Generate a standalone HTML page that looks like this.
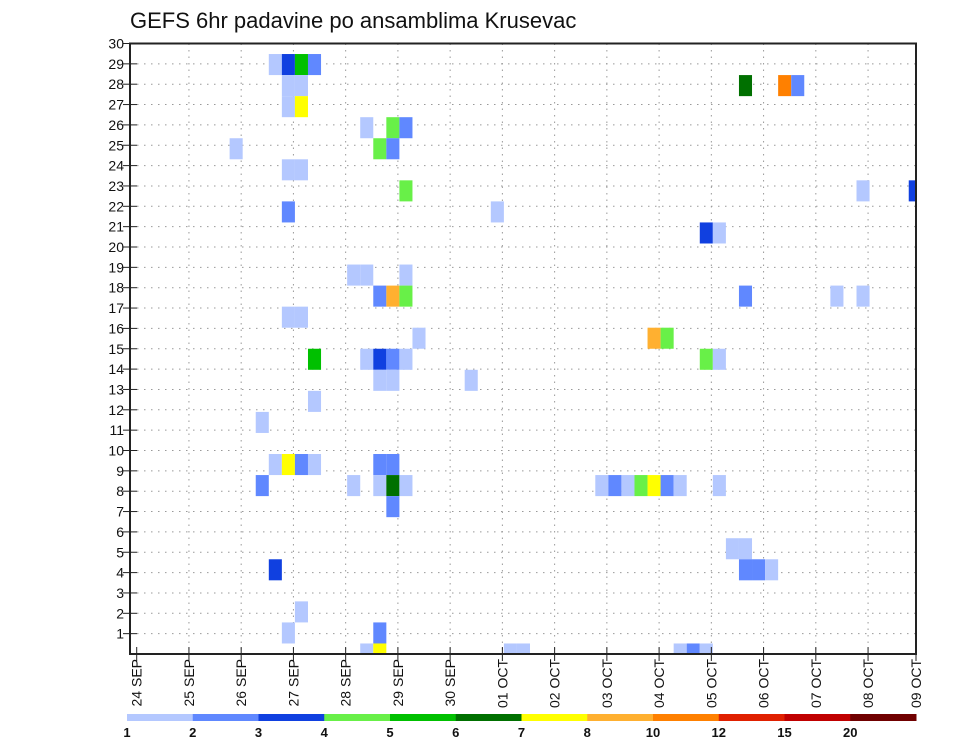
<!DOCTYPE html>
<html><head><meta charset="utf-8"><style>
html,body{margin:0;padding:0;background:#fff;}
svg{display:block;font-family:"Liberation Sans","DejaVu Sans",sans-serif;}
</style></head><body>
<svg id="chart" width="960" height="742" viewBox="0 0 960 742" xmlns="http://www.w3.org/2000/svg">
<rect x="0" y="0" width="960" height="742" fill="#fff"/>
<text x="130" y="28" font-size="22" fill="#111">GEFS 6hr padavine po ansamblima Krusevac</text>
<defs><clipPath id="plotclip"><rect x="130" y="43.5" width="786" height="610.5"/></clipPath></defs>
<g id="grid"></g>
<g id="cells" clip-path="url(#plotclip)"></g>
<rect x="130" y="43.5" width="786" height="610.5" fill="none" stroke="#222" stroke-width="2"/>
<g id="yaxis"></g>
<g id="xaxis"></g>
<g id="colorbar"></g>
</svg>
<script>
// member index, 6-hour step index (from 24 SEP 00z), precipitation value (mm)
const members = [28,28,28,28, 27,27,27,27,27, 26,26, 25,25,25, 24,24,24, 23,23, 22,22,22, 21,21, 20,20, 18,18,18, 17,17,17,17,17,17, 16,16, 15,15,15, 14,14,14,14,14,14,14, 13,13,13, 12, 11, 9,9,9,9,9,9, 8,8,8,8,8,8,8,8,8,8,8,8,8, 7, 5,5, 4,4,4,4, 2, 1,1, 0,0,0,0,0,0,0];
const steps   = [10,11,12,13, 11,12,46,49,50, 11,12, 17,19,20, 7,18,19, 11,12, 20,55,59, 11,27, 43,44, 16,17,20, 18,19,20,46,53,55, 11,12, 21,39,40, 13,17,18,19,20,43,44, 18,19,25, 13, 9, 10,11,12,13,18,19, 9,16,18,19,20,35,36,37,38,39,40,41,44, 19, 45,46, 10,46,47,48, 12, 11,18, 17,18,28,29,41,42,43];
const values  = [1.5,3.5,5.5,2.5, 1.5,1.5,6.5,11,2.5, 1.5,7.5, 1.5,4.5,2.5, 1.5,4.5,2.5, 1.5,1.5, 4.5,1.5,3.5, 2.5,1.5, 3.5,1.5, 1.5,1.5,1.5, 2.5,9,4.5,2.5,1.5,1.5, 1.5,1.5, 1.5,9,4.5, 5.5,1.5,3.5,2.5,1.5,4.5,1.5, 1.5,1.5,1.5, 1.5, 1.5, 1.5,7.5,2.5,1.5,2.5,2.5, 2.5,1.5,1.5,6.5,1.5,1.5,2.5,1.5,4.5,7.5,2.5,1.5,1.5, 2.5, 1.5,1.5, 3.5,2.5,2.5,1.5, 1.5, 1.5,2.5, 1.5,7.5,1.5,1.5,1.5,2.5,1.5];
const levels = [1,2,3,4,5,6,7,8,10,12,15,20];
const levelColors = ["#b4c8ff","#6088ff","#1040e0","#68f048","#00c000","#007000","#ffff00","#ffb030","#ff8000","#e02000","#c00000","#700000"];
const yTickLabels = ["1","2","3","4","5","6","7","8","9","10","11","12","13","14","15","16","17","18","19","20","21","22","23","24","25","26","27","28","29","30"];
const dayLabels = ["24 SEP","25 SEP","26 SEP","27 SEP","28 SEP","29 SEP","30 SEP","01 OCT","02 OCT","03 OCT","04 OCT","05 OCT","06 OCT","07 OCT","08 OCT","09 OCT"];

const NS = "http://www.w3.org/2000/svg";
const L = 130, R = 916, T = 43.5, B = 654;
const STEP = 13.06;
function xStep(i){ return 136.7 + i*STEP; }
function xDay(d){ return Math.min(136.7 + d*4*STEP, R); }
function yTick(k){ return B - k*(B-T)/30; }
function yMember(m){ return B - m*(B-T)/29; }
function colorOf(v){ let c = levelColors[0]; for(let j=0;j<levels.length;j++){ if(v>=levels[j]) c = levelColors[j]; } return c; }
function mk(tag, attrs, parent){ const e=document.createElementNS(NS,tag); for(const k in attrs) e.setAttribute(k, attrs[k]); parent.appendChild(e); return e; }

const grid = document.getElementById('grid');
for(let k=1;k<30;k++){
  const ln = mk('line',{x1:L,x2:R,y1:yTick(k),y2:yTick(k),stroke:'#999','stroke-width':1,'stroke-dasharray':'1.5,5.5'},grid);
  
  
}
for(let d=1;d<dayLabels.length-1;d++){
  const ln = mk('line',{x1:xDay(d),x2:xDay(d),y1:T,y2:B,stroke:'#999','stroke-width':1,'stroke-dasharray':'1.5,5'},grid);
  
  
}

const cells = document.getElementById('cells');
const ch = (B-T)/29;
for(let n=0;n<values.length;n++){
  const r = mk('rect',{x:xStep(steps[n])+1.5,y:yMember(members[n])-ch/2,width:STEP,height:ch,fill:colorOf(values[n])},cells);
  
  
}

const ya = document.getElementById('yaxis');
for(let k=1;k<=30;k++){
  const y = yTick(k);
  const tk = mk('line',{x1:L-7,x2:L+7,y1:y,y2:y,stroke:'#222','stroke-width':1},ya);
  
  
  const t = mk('text',{x:L-6,y:y+5,'text-anchor':'end','font-size':14,fill:'#111'},ya);
  t.textContent = yTickLabels[k-1];
  
  
}

const xa = document.getElementById('xaxis');
for(let d=0;d<dayLabels.length;d++){
  const x = xDay(d);
  const tk = mk('line',{x1:x,x2:x,y1:B-7,y2:B+7,stroke:'#222','stroke-width':1},xa);
  
  
  const t = mk('text',{x:0,y:0,'text-anchor':'end','font-size':14,fill:'#111',transform:'translate('+(x+5)+','+(B+5)+') rotate(-90)'},xa);
  t.textContent = dayLabels[d];
  
  
}

const cb = document.getElementById('colorbar');
const cbL = 127, cbW = (R-cbL)/levels.length;
for(let j=0;j<levels.length;j++){
  const r = mk('rect',{x:cbL+j*cbW,y:714,width:cbW+0.5,height:7,fill:levelColors[j]},cb);
  
  
  const t = mk('text',{x:cbL+j*cbW,y:737,'text-anchor':'middle','font-size':13,'font-weight':'bold',fill:'#111'},cb);
  t.textContent = String(levels[j]);
  
  
}
</script>
</body></html>
